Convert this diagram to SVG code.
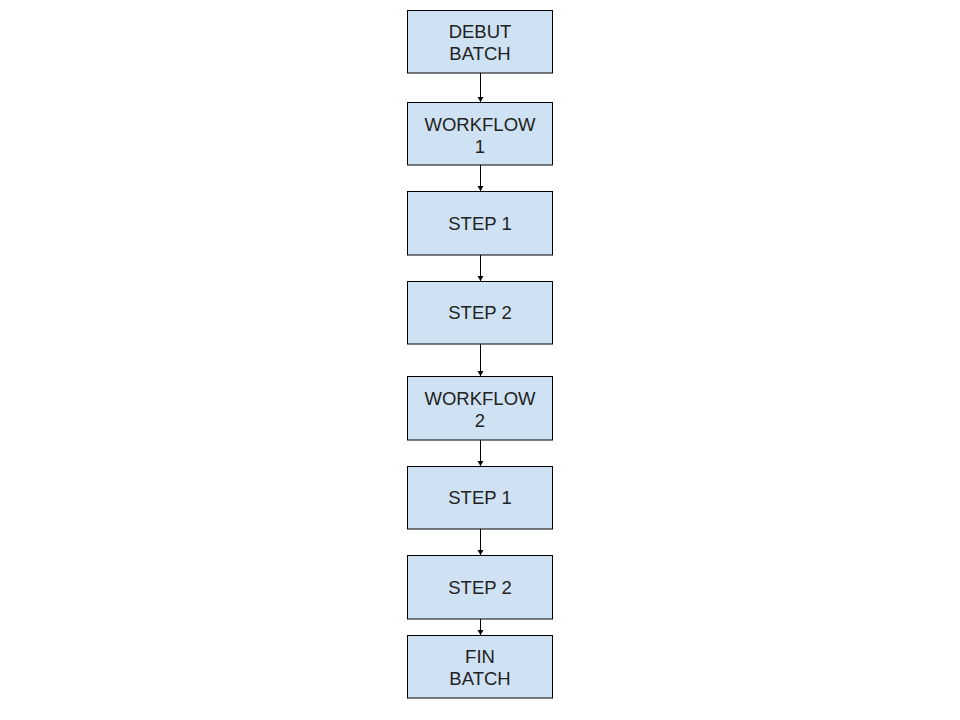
<svg xmlns="http://www.w3.org/2000/svg" width="960" height="720" viewBox="0 0 960 720">
<defs>
<marker id="ah" markerWidth="6" markerHeight="7" refX="5" refY="3.5" orient="auto" markerUnits="userSpaceOnUse">
<path d="M0,0.5 L5,3.5 L0,6.5 Z" fill="#000"/>
</marker>
<style>
.box{fill:#cfe2f3;stroke:#000;stroke-width:1}
.t{font-family:"Liberation Sans",Arial,sans-serif;font-size:18.5px;fill:#222;text-anchor:middle}
.c{stroke:#000;stroke-width:1;fill:none;marker-end:url(#ah)}
</style>
</defs>
<rect width="960" height="720" fill="#fff"/>
<g id="connectors">
<line class="c" x1="480.5" y1="73" x2="480.5" y2="102"/>
<line class="c" x1="480.5" y1="165" x2="480.5" y2="191"/>
<line class="c" x1="480.5" y1="255" x2="480.5" y2="281"/>
<line class="c" x1="480.5" y1="344" x2="480.5" y2="376"/>
<line class="c" x1="480.5" y1="440" x2="480.5" y2="466"/>
<line class="c" x1="480.5" y1="529" x2="480.5" y2="555"/>
<line class="c" x1="480.5" y1="619" x2="480.5" y2="635"/>
</g>
<g id="n1"><rect class="box" x="407.5" y="10.5" width="145" height="62.5"/><text class="t" x="480" y="37.5">DEBUT</text><text class="t" x="480" y="59.5">BATCH</text></g>
<g id="n2"><rect class="box" x="407.5" y="102.5" width="145" height="62.5"/><text class="t" x="480" y="130.5">WORKFLOW</text><text class="t" x="480" y="152.5">1</text></g>
<g id="n3"><rect class="box" x="407.5" y="191.5" width="145" height="63.5"/><text class="t" x="480" y="230">STEP 1</text></g>
<g id="n4"><rect class="box" x="407.5" y="281.5" width="145" height="62.5"/><text class="t" x="480" y="319">STEP 2</text></g>
<g id="n5"><rect class="box" x="407.5" y="376.5" width="145" height="63.5"/><text class="t" x="480" y="404.5">WORKFLOW</text><text class="t" x="480" y="426.5">2</text></g>
<g id="n6"><rect class="box" x="407.5" y="466.5" width="145" height="62.5"/><text class="t" x="480" y="504">STEP 1</text></g>
<g id="n7"><rect class="box" x="407.5" y="555.5" width="145" height="63.5"/><text class="t" x="480" y="594">STEP 2</text></g>
<g id="n8"><rect class="box" x="407.5" y="635.5" width="145" height="62.5"/><text class="t" x="480" y="662.5">FIN</text><text class="t" x="480" y="684.5">BATCH</text></g>
</svg>
